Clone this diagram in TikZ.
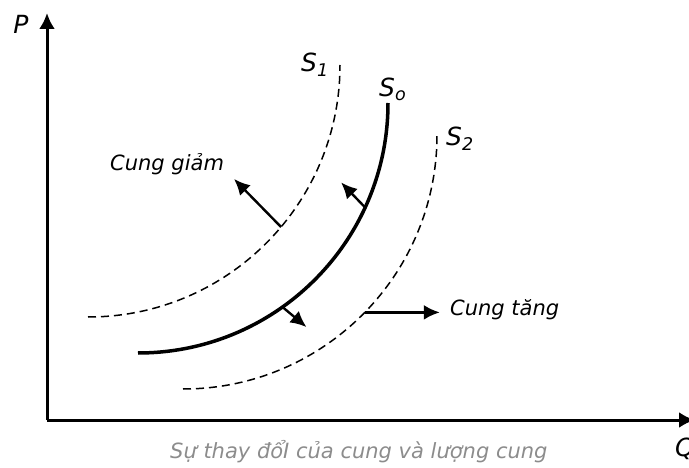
\documentclass[tikz,border=0pt]{standalone}
\usepackage{fontspec}
\setmainfont{DejaVu Sans}
\usetikzlibrary{arrows.meta}
\definecolor{captiongray}{HTML}{8C8C8C}

\begin{document}
\begin{tikzpicture}[
    x=1pt, y=1pt,
    axis/.style={line width=3pt, -{Latex[length=16pt, width=16pt]}},
    supply/.style={line width=3.5pt},
    moved/.style={line width=1.5pt, dash pattern=on 8pt off 5pt},
    shiftarrow/.style={line width=2.4pt, -{Latex[length=16pt, width=15pt]}},
    curvelbl/.style={font=\fontsize{25}{29}\selectfont\itshape, inner sep=0pt},
    textlbl/.style={font=\fontsize{21}{25}\selectfont\itshape, inner sep=0pt}
]
\useasboundingbox (0,0) rectangle (689,467);

% Axes
\coordinate (origin) at (47,47);
\coordinate (ptop) at (47,454);
\coordinate (qend) at (695,47);
\draw[axis] (origin) -- (ptop);
\draw[axis] (origin) -- (qend);
\node[curvelbl] (plbl) at (21,443) {P};
\node[curvelbl, anchor=north west] (qlbl) at (675,29) {Q};

% Curve centres
\coordinate (s0c) at (138,364);
\coordinate (s1c) at (88,402);
\coordinate (s2c) at (183,332);

% Supply curves
\draw[supply] (s0c) ++(270:250pt) arc[start angle=270, end angle=360, radius=250pt];
\draw[moved] (s1c) ++(270:252pt) arc[start angle=270, end angle=360, radius=252pt];
\draw[moved] (s2c) ++(270:254pt) arc[start angle=270, end angle=360, radius=254pt];

% Curve labels
\node[curvelbl, anchor=base west] (s1lbl) at (301,395) {S\textsubscript{1}};
\node[curvelbl, anchor=base west] (s0lbl) at (379,370) {S\textsubscript{o}};
\node[curvelbl, anchor=base west] (s2lbl) at (446,321) {S\textsubscript{2}};

% Points on the curves
\path (s1c) ++(-40:252pt) coordinate (s1pt);
\path (s0c) ++(-24.7:250pt) coordinate (s0up);
\path (s0c) ++(-54.7:250pt) coordinate (s0dn);
\path (s2c) ++(-44.3:254pt) coordinate (s2pt);

% Shift arrows
\draw[shiftarrow] (s1pt) -- ++(-47,48) coordinate (s1tip);
\draw[shiftarrow] (s0up) -- ++(-24,25) coordinate (s0uptip);
\draw[shiftarrow] (s0dn) -- ++(24,-20) coordinate (s0dntip);
\draw[shiftarrow] (s2pt) -- ++(75,0) coordinate (s2tip);

% Arrow labels
\node[textlbl, anchor=base west] (down) at (110,296) {Cung giảm};
\node[textlbl, anchor=base west] (up) at (450,152) {Cung tăng};

% Caption
\node[textlbl, anchor=base west, text=captiongray] (caption) at (170,9) {Sự thay đổI của cung và lượng cung};

\end{tikzpicture}
\end{document}
